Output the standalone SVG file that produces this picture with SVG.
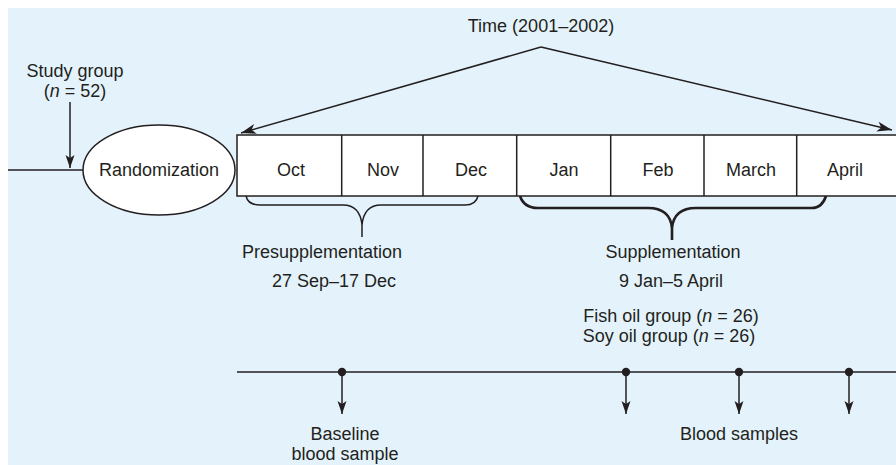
<svg xmlns="http://www.w3.org/2000/svg" width="896" height="465" viewBox="0 0 896 465">
<style>
text{font-family:"Liberation Sans",Arial,sans-serif;font-size:18px;fill:#231f20;text-anchor:middle}
.ln{stroke:#231f20;stroke-width:1.5;fill:none}
.box{fill:#ffffff;stroke:#231f20;stroke-width:1.5}
.dot{fill:#231f20}
</style>
<defs>
<marker id="ah" viewBox="-16 -6 17 12" refX="0" refY="0" markerWidth="17" markerHeight="12" orient="auto" markerUnits="userSpaceOnUse">
<path d="M0,0 L-15,-5 L-11,0 L-15,5 Z" fill="#231f20"/>
</marker>
<marker id="ad" viewBox="-14 -5 15 10" refX="0" refY="0" markerWidth="15" markerHeight="10" orient="auto" markerUnits="userSpaceOnUse">
<path d="M0,0 L-13,-4.5 L-10,0 L-13,4.5 Z" fill="#231f20"/>
</marker>
</defs>
<rect x="8" y="8" width="888" height="457" fill="#e4f3fb"/>

<g id="connectors">
<line class="ln" x1="8" y1="170" x2="83" y2="170"/>
<line class="ln" x1="70" y1="102" x2="70" y2="168" marker-end="url(#ad)"/>
<line class="ln" x1="541" y1="47" x2="241" y2="133" marker-end="url(#ah)"/>
<line class="ln" x1="541" y1="47" x2="892" y2="130" marker-end="url(#ah)"/>
<path class="ln" d="M246,196 Q248,205 260,205 L343,205 Q360,205 362,225 L362,237 M362,225 Q364,205 381,205 L465,205 Q476,205 478,196"/>
<path class="ln" style="stroke-width:2.6" d="M520,196 Q524,208 538,208 L648,208 Q670,208 672,228 L672,240 M672,228 Q674,208 696,208 L812,208 Q822,208 826,196"/>
<line class="ln" x1="237" y1="372" x2="896" y2="372"/>
<line class="ln" x1="342" y1="372" x2="342" y2="414" marker-end="url(#ad)"/>
<line class="ln" x1="626" y1="372" x2="626" y2="414" marker-end="url(#ad)"/>
<line class="ln" x1="739" y1="372" x2="739" y2="414" marker-end="url(#ad)"/>
<line class="ln" x1="849" y1="372" x2="849" y2="414" marker-end="url(#ad)"/>
<circle class="dot" cx="342" cy="372" r="4.2"/>
<circle class="dot" cx="626" cy="372" r="4.2"/>
<circle class="dot" cx="739" cy="372" r="4.2"/>
<circle class="dot" cx="849" cy="372" r="4.2"/>
</g>

<g id="time-label"><text x="541" y="32">Time (2001–2002)</text></g>
<g id="study-group">
<text x="75" y="77">Study group</text>
<text x="75" y="97">(<tspan font-style="italic">n</tspan> = 52)</text>
</g>
<g id="randomization">
<ellipse cx="159" cy="170" rx="76" ry="45" fill="#ffffff" stroke="#231f20" stroke-width="1.5"/>
<text x="159" y="176">Randomization</text>
</g>
<g id="months">
<rect class="box" x="237" y="135" width="670" height="61"/>
<line class="ln" x1="341.7" y1="135" x2="341.7" y2="196"/>
<line class="ln" x1="423" y1="135" x2="423" y2="196"/>
<line class="ln" x1="516.7" y1="135" x2="516.7" y2="196"/>
<line class="ln" x1="610.7" y1="135" x2="610.7" y2="196"/>
<line class="ln" x1="704" y1="135" x2="704" y2="196"/>
<line class="ln" x1="796.7" y1="135" x2="796.7" y2="196"/>
<text x="291" y="176">Oct</text>
<text x="383" y="176">Nov</text>
<text x="471" y="176">Dec</text>
<text x="564" y="176">Jan</text>
<text x="658" y="176">Feb</text>
<text x="751" y="176">March</text>
<text x="845" y="176">April</text>
</g>
<g id="presupplementation">
<text x="322" y="258">Presupplementation</text>
<text x="334" y="287">27 Sep–17 Dec</text>
</g>
<g id="supplementation">
<text x="673" y="258">Supplementation</text>
<text x="671" y="287">9 Jan–5 April</text>
<text x="671" y="322">Fish oil group (<tspan font-style="italic">n</tspan> = 26)</text>
<text x="669" y="342">Soy oil group (<tspan font-style="italic">n</tspan> = 26)</text>
</g>
<g id="baseline-sample">
<text x="345" y="440">Baseline</text>
<text x="345" y="460">blood sample</text>
</g>
<g id="blood-samples"><text x="739" y="440">Blood samples</text></g>
</svg>
